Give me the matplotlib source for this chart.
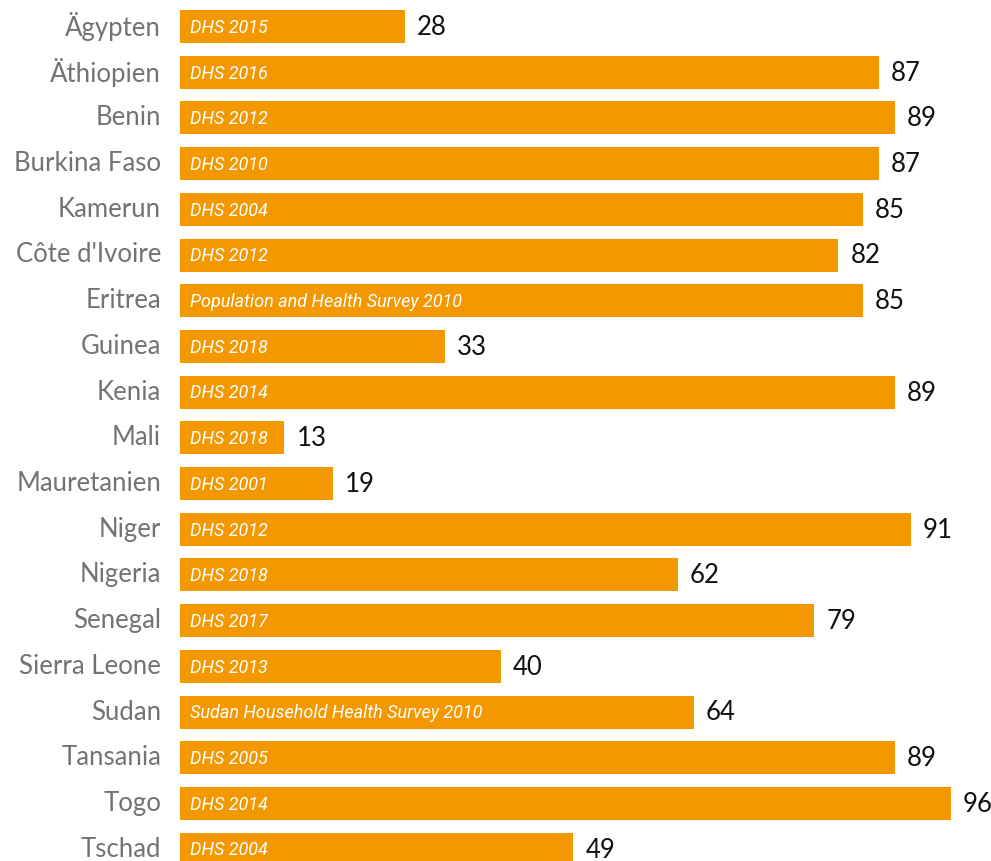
import matplotlib
matplotlib.use("Agg")
import matplotlib.pyplot as plt
from matplotlib import font_manager as fm

countries = ["Ägypten", "Äthiopien", "Benin", "Burkina Faso", "Kamerun", "Côte d'Ivoire",
             "Eritrea", "Guinea", "Kenia", "Mali", "Mauretanien", "Niger", "Nigeria",
             "Senegal", "Sierra Leone", "Sudan", "Tansania", "Togo", "Tschad"]
values = [28, 87, 89, 87, 85, 82, 85, 33, 89, 13, 19, 91, 62, 79, 40, 64, 89, 96, 49]
sources = ["DHS 2015", "DHS 2016", "DHS 2012", "DHS 2010", "DHS 2004", "DHS 2012",
           "Population and Health Survey 2010", "DHS 2018", "DHS 2014", "DHS 2018",
           "DHS 2001", "DHS 2012", "DHS 2018", "DHS 2017", "DHS 2013",
           "Sudan Household Health Survey 2010", "DHS 2005", "DHS 2014", "DHS 2004"]

names = {f.name for f in fm.fontManager.ttflist}
inner_font = "Liberation Sans Narrow" if "Liberation Sans Narrow" in names else "Roboto"

W, H = 991, 861
fig = plt.figure(figsize=(W / 100, H / 100), dpi=100)
ax = fig.add_axes([0, 0, 1, 1])

pxu = 8.03          # pixels per unit
x0 = 180            # pixel of zero
pitch = 45.7
c0 = 26.5
ax.set_xlim(-x0 / pxu, (W - x0) / pxu)
ax.set_ylim((H - c0) / pitch, -c0 / pitch)
ax.axis("off")

color = "#F39800"
ypos = list(range(len(countries)))
ax.barh(ypos, values, height=33 / pitch, color=color, left=0)

for i, (c, v, s) in enumerate(zip(countries, values, sources)):
    ax.text(-19 / pxu, i, c, ha="right", va="center", fontsize=18.5,
            color="#737373", family="Lato")
    ax.text(v + 12 / pxu, i + 0.02, str(v), ha="left", va="center", fontsize=18.5,
            color="#111111", family="Lato")
    ax.text(10 / pxu, i + 0.03, s, ha="left", va="center", fontsize=13,
            color="white", style="italic", family=inner_font)

fig.savefig("out.png", dpi=100)
